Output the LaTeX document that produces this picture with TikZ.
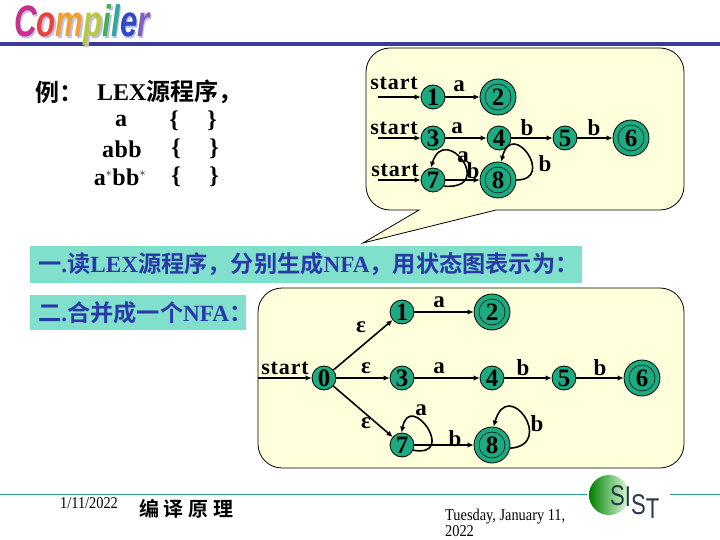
\documentclass[tikz,border=0pt]{standalone}
\usepackage{fontspec}
\setmainfont{Liberation Serif}
\newfontfamily\cjk{Noto Sans CJK SC}[BoldFont={Noto Sans CJK SC Bold}]
\newfontfamily\spacedserif{Liberation Serif}[LetterSpace=4]
\newfontfamily\logofont{Liberation Sans}
\usetikzlibrary{arrows.meta,shadings}
\definecolor{rulebl}{HTML}{3A3A9C}
\definecolor{boxy}{HTML}{FFFFDC}
\definecolor{tealf}{HTML}{1DAA80}
\definecolor{bandc}{HTML}{80E0CC}
\definecolor{inkbl}{HTML}{2A38A8}
\definecolor{footl}{HTML}{2FA090}
\definecolor{logoink}{HTML}{2A3A4A}
\begin{document}
\begin{tikzpicture}[x=1pt,y=-1pt,
  stnode/.style={circle,draw=black,line width=.8pt,fill=tealf,minimum size=24pt,inner sep=0pt,font=\fontsize{25}{25}\selectfont\bfseries},
  accnode/.style={circle,draw=black,line width=.8pt,fill=tealf,minimum size=36pt,inner sep=0pt,font=\fontsize{25}{25}\selectfont\bfseries,
    path picture={\draw[line width=.5pt] (path picture bounding box.center) circle (13pt);}},
  edgel/.style={draw=black,line width=1.6pt,-{Latex[length=6pt,width=5.5pt]}},
  lab/.style={inner sep=0pt,font=\fontsize{23}{23}\selectfont\bfseries},
  startl/.style={inner sep=0pt,font=\fontsize{22}{22}\selectfont\spacedserif\bfseries},
  bubble/.style={draw=black,line width=.8pt,fill=boxy},
  band/.style={fill=bandc,inner sep=0pt,anchor=west,text=inkbl,font=\fontsize{23.2}{23.2}\selectfont\bfseries},
  plain/.style={inner sep=0pt,font=\fontsize{24}{24}\selectfont\bfseries},
  foot/.style={inner sep=0pt,anchor=west,font=\fontsize{16.5}{16.5}\selectfont}]
\useasboundingbox (0,0) rectangle (720,540);
\fill[white] (0,0) rectangle (720,540);

% header
\fill[rulebl] (0,42.5) rectangle (720,46);
\node[inner sep=0pt,anchor=west,text=black!25!blue!25!white] at (15.5,27) (logoshadow) {\scalebox{.71}[1]{\fontsize{44}{44}\logofont\bfseries\itshape Compiler}};
\node[inner sep=0pt,anchor=west] at (14,25.5) (logo) {\scalebox{.71}[1]{\fontsize{44}{44}\logofont\bfseries\itshape
 \textcolor[HTML]{C8308C}{C}\textcolor[HTML]{E8443C}{o}\textcolor[HTML]{F0A030}{m}\textcolor[HTML]{B8C840}{p}\textcolor[HTML]{40B050}{i}\textcolor[HTML]{30A8A0}{l}\textcolor[HTML]{3048C8}{e}\textcolor[HTML]{8060B8}{r}}};

% left listing
\node[plain,anchor=west] at (35,92) (li) {{\cjk\bfseries 例：}};
\node[plain,anchor=west] at (97,92) (lex) {LEX{\cjk\bfseries 源程序，}};
\node[plain] at (121,121) (ra) {a};
\node[plain] at (174,121) (rao) {\{};
\node[plain] at (212,121) (rac) {\}};
\node[plain] at (122,149) (rb) {a\hspace{.5pt}b\hspace{.5pt}b};
\node[plain] at (176,149) (rbo) {\{};
\node[plain] at (214,149) (rbc) {\}};
\node[plain] at (120,177) (rc) {a$^{\scriptscriptstyle *}$b\hspace{.5pt}b$^{\scriptscriptstyle *}$};
\node[plain] at (176,177) (rco) {\{};
\node[plain] at (214,177) (rcc) {\}};

% callout
\draw[bubble] (419,210) -- (363,243) -- (496,210)
  -- (660,210) arc[start angle=90,end angle=0,radius=24] -- (684,72)
  arc[start angle=0,end angle=-90,radius=24] -- (390,48)
  arc[start angle=-90,end angle=-180,radius=24] -- (366,186)
  arc[start angle=180,end angle=90,radius=24] -- cycle;

% first diagram
\node[stnode] (a1) at (433,97) {1};
\node[accnode] (a2) at (498,97) {2};
\node[stnode] (a3) at (433,138) {3};
\node[stnode] (a4) at (499,138) {4};
\node[stnode] (a5) at (565,138) {5};
\node[accnode] (a6) at (631,138) {6};
\node[stnode] (a7) at (433,180) {7};
\node[accnode] (a8) at (498,180) {8};
\coordinate (s1) at (378,97);
\coordinate (s3) at (378,138);
\coordinate (s7) at (378,180);
\draw[edgel] (s1) -- (a1);
\draw[edgel] (a1) -- (a2);
\draw[edgel] (s3) -- (a3);
\draw[edgel] (a3) -- (a4);
\draw[edgel] (a4) -- (a5);
\draw[edgel] (a5) -- (a6);
\draw[edgel] (s7) -- (a7);
\draw[edgel] (a7) -- (a8);
\draw[edgel] (a7.-30) .. controls (497,190) and (445,122) .. (a7.100);
\draw[edgel] (a8.0) .. controls (556,180) and (512,118) .. (a8.80);
\node[startl] (t1) at (394,83) {start};
\node[startl] (t3) at (394,128) {start};
\node[startl] (t7) at (395,170) {start};
\node[lab] (l1) at (459,86) {a};
\node[lab] (l2) at (457,128) {a};
\node[lab] (l3) at (527,128) {b};
\node[lab] (l4) at (594,128) {b};
\node[lab] (l5) at (463,157) {a};
\node[lab] (l6) at (473,171) {b};
\node[lab] (l7) at (545,164) {b};

% bands
\node[band,minimum height=37pt] (b1) at (30,264) {\makebox[552pt][l]{\hspace{8pt}{\cjk\bfseries 一}.{\cjk\bfseries 读}LEX{\cjk\bfseries 源程序，分别生成}NFA{\cjk\bfseries ，用状态图表示为：}}};
\node[band,minimum height=35pt] (b2) at (30,312.5) {\makebox[216pt][l]{\hspace{8pt}{\cjk\bfseries 二}.{\cjk\bfseries 合并成一个}NFA{\cjk\bfseries ：}}};

% second diagram
\draw[bubble,rounded corners=24pt] (258,288) rectangle (684,468);
\node[stnode] (c0) at (324,378) {0};
\node[stnode] (c1) at (402,312) {1};
\node[accnode] (c2) at (492,312) {2};
\node[stnode] (c3) at (402,378) {3};
\node[stnode] (c4) at (492,378) {4};
\node[stnode] (c5) at (564,378) {5};
\node[accnode] (c6) at (642,378) {6};
\node[stnode] (c7) at (402,445) {7};
\node[accnode] (c8) at (492,445) {8};
\coordinate (s0) at (258,378);
\draw[edgel] (s0) -- (c0);
\draw[edgel] (c0) -- (c1);
\draw[edgel] (c0) -- (c3);
\draw[edgel] (c0) -- (c7);
\draw[edgel] (c1) -- (c2);
\draw[edgel] (c3) -- (c4);
\draw[edgel] (c4) -- (c5);
\draw[edgel] (c5) -- (c6);
\draw[edgel] (c7) -- (c8);
\draw[edgel] (c7.-25) .. controls (458,458) and (410,390) .. (c7.92);
\draw[edgel] (c8.-10) .. controls (556,445) and (508,376) .. (c8.85);
\node[startl] (t0) at (285,368) {start};
\node[lab] (e1) at (361,327) {ε};
\node[lab] (e2) at (366,368) {ε};
\node[lab] (e3) at (366,423) {ε};
\node[lab] (m1) at (439,302) {a};
\node[lab] (m2) at (439,368) {a};
\node[lab] (m3) at (523,368) {b};
\node[lab] (m4) at (600,368) {b};
\node[lab] (m5) at (421,410) {a};
\node[lab] (m6) at (455,439) {b};
\node[lab] (m7) at (537,424) {b};

% footer
\coordinate (fl0) at (0,494);
\coordinate (fl1) at (587,494);
\coordinate (fl2) at (670,494);
\coordinate (fl3) at (720,494);
\draw[footl,line width=.9pt] (fl0) -- (fl1);
\draw[footl,line width=.9pt] (fl2) -- (fl3);
\node[foot] (d1) at (60,503) {\scalebox{.87}[1]{1/11/2022}};
\node[inner sep=0pt,anchor=west,font=\fontsize{20}{20}\selectfont] (d2) at (139,509) {{\cjk\bfseries 编\hspace{4.7pt}译\hspace{4.7pt}原\hspace{4.7pt}理}};
\node[foot] (d3) at (445,517) {\scalebox{.87}[1]{Tuesday, January 11,}};
\node[foot] (d4) at (445,531.5) {\scalebox{.87}[1]{2022}};
\shade[left color=green!50!black,right color=green!12!white] (609,495) circle (20);
\node[inner sep=0pt,anchor=west,text=logoink] (sist) at (610,502) {\fontsize{26}{26}\logofont \scalebox{.85}[1.1]{\raisebox{7pt}{S}\raisebox{6pt}{I}\raisebox{-1pt}{S}\raisebox{-5pt}{T}}};
\end{tikzpicture}
\end{document}
